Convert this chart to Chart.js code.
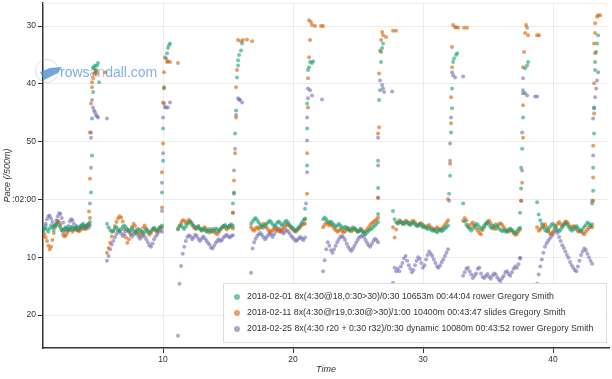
<!DOCTYPE html>
<html><head><meta charset="utf-8">
<script src="https://cdn.jsdelivr.net/npm/chart.js@4/dist/chart.umd.min.js"></script>
<style>html,body{margin:0;padding:0;background:#fff}#wrap{width:612px;height:379px}</style>
</head><body><div id="wrap"><canvas id="c" width="612" height="379"></canvas></div>
<script>
const seriesLabels = [
  '2018-02-01 8x(4:30@18,0:30>30)/0:30 10653m 00:44:04 rower Gregory Smith',
  '2018-02-11 8x(4:30@r19,0:30@>30)/1:00 10400m 00:43:47 slides Gregory Smith',
  '2018-02-25 8x(4:30 r20 + 0:30 r32)/0:30 dynamic 10080m 00:43:52 rower Gregory Smith'
];
const seriesColors = ['rgba(27,158,119,0.6)', 'rgba(217,95,2,0.6)', 'rgba(117,112,179,0.6)'];

// work intervals (minutes)
const workStart = [0.77, 5.69, 11.15, 16.77, 22.31, 27.69, 33.08, 38.77];
const workEnd   = [4.38, 9.92, 15.38, 20.92, 26.54, 31.92, 37.46, 43.0];

// pace (seconds /500m) during work intervals
const greenWork = [
 [125.4,125.0,124.6,125.2,125.6,125.0,124.5,124.8,125.3,124.6,124.2,124.0,124.5,124.9,125.3,125.6,125.2,124.8,125.0,125.3,125.1,124.7,124.9,125.2,125.0,124.6,124.8,125.1,124.7,124.4,124.2,124.6,124.9,124.5,124.2,123.9],
 [124.2,124.8,125.3,125.6,125.4,125.0,124.8,125.2,125.5,125.1,124.7,124.5,124.8,125.2,125.5,125.3,125.0,125.4,125.8,125.5,125.1,125.3,125.6,125.9,125.6,125.2,125.4,125.7,125.5,125.1,124.9,125.2,125.4,125.0,124.7,124.5],
 [125.0,124.6,124.4,124.8,125.1,124.7,124.3,124.0,123.8,124.2,124.5,124.8,125.0,124.7,125.1,125.3,125.0,125.3,125.6,125.4,125.1,125.4,125.6,125.3,125.0,125.2,125.5,125.1,124.8,124.6,124.4,124.7,124.9,124.5,124.3,124.6],
 [124.2,123.8,123.4,123.2,123.6,124.0,124.4,124.7,124.9,124.6,124.2,124.0,123.7,123.9,124.3,124.6,124.4,124.0,123.8,124.1,124.5,124.3,123.9,123.7,124.0,124.4,124.7,124.9,125.2,125.4,125.1,124.8,124.4,124.0,123.6,123.4],
 [123.4,123.1,123.4,123.8,124.0,123.8,124.1,124.4,124.7,124.5,124.2,124.5,124.8,125.0,124.7,124.9,125.2,125.4,125.1,124.8,125.0,125.3,125.6,125.4,125.1,125.5,125.8,126.0,125.7,125.4,125.2,125.0,124.7,124.5,124.2,123.9],
 [122.0,123.4,124.0,124.2,124.0,123.8,124.1,124.3,124.0,123.8,124.1,124.4,124.2,124.0,124.3,124.6,124.4,124.2,124.5,124.8,124.6,124.9,125.1,124.9,125.2,125.4,125.2,125.5,125.7,125.4,125.2,125.5,125.3,125.0,124.8,124.5],
 [120.7,123.8,124.4,124.8,125.1,125.4,125.0,124.6,124.2,124.4,124.8,125.2,124.9,124.5,124.2,124.0,124.4,124.8,125.0,124.6,124.3,124.6,125.0,125.3,125.5,125.3,125.6,125.4,125.2,125.0,125.3,125.6,125.8,125.5,125.1,124.9],
 [120.5,122.6,123.6,124.2,124.8,125.3,125.5,125.2,124.8,124.4,124.2,124.5,124.9,125.3,125.5,125.2,124.8,124.4,124.1,124.3,124.7,125.1,125.4,125.2,124.9,124.6,124.9,125.3,125.5,125.1,124.7,124.4,124.0,124.2,124.5,124.3]
];
const orangeWork = [
 [126.3,126.0,126.6,127.2,128.0,128.6,128.2,127.0,125.8,124.8,124.2,123.7,123.9,124.4,125.3,126.1,126.4,126.2,125.8,125.4,125.1,125.3,125.6,125.2,124.9,125.0,125.3,125.5,125.2,124.8,124.6,124.9,125.1,124.7,124.3,123.2],
 [129.2,128.4,127.5,126.4,125.5,124.6,123.9,123.3,122.9,123.1,123.8,125.2,126.6,127.5,126.9,125.8,124.7,124.2,124.6,125.3,125.9,126.2,125.6,124.9,124.5,125.0,125.7,126.1,125.8,125.3,125.0,125.4,125.6,125.1,124.8,124.9],
 [125.2,124.6,124.0,123.6,123.7,124.1,123.8,123.5,123.9,124.4,124.8,125.1,124.9,124.6,125.0,125.4,125.2,124.8,125.1,125.5,125.7,125.4,125.1,125.5,125.8,126.0,125.6,125.2,124.9,124.6,124.9,125.2,124.8,124.5,124.8,125.0],
 [124.8,125.2,125.4,125.0,124.8,125.1,124.9,124.5,124.2,124.4,124.8,125.2,125.5,125.6,125.3,125.0,124.8,125.2,125.5,125.6,125.3,125.0,124.7,124.4,124.3,124.6,124.9,125.2,125.4,125.6,125.3,125.0,124.7,124.4,124.2,124.2],
 [124.8,124.4,124.0,124.2,124.5,124.3,124.6,125.0,125.3,125.6,125.4,125.1,125.4,125.7,125.5,125.2,124.9,125.2,125.5,125.3,125.0,125.3,125.6,125.4,125.1,125.4,125.7,125.5,125.2,124.8,124.4,124.1,123.9,123.7,123.4,123.1],
 [124.8,126.6,125.2,124.0,123.6,123.8,124.2,124.0,123.7,124.0,124.3,124.1,123.8,123.7,124.0,124.4,124.6,124.3,124.1,124.4,124.7,124.9,124.6,124.4,124.8,125.0,125.3,125.1,124.8,125.1,125.3,125.0,124.7,124.4,124.0,123.6],
 [123.7,123.2,123.6,124.4,124.8,124.3,124.0,124.5,125.0,125.4,125.8,126.0,125.3,124.8,124.2,123.8,123.7,124.1,124.6,124.9,125.1,124.7,124.3,124.1,124.4,124.8,125.2,125.5,125.6,125.3,125.4,125.8,126.1,126.0,125.6,125.2],
 [124.8,125.4,125.2,124.8,124.5,124.3,124.8,125.4,125.8,126.0,125.6,125.0,124.6,124.2,123.9,124.3,124.6,124.2,123.8,123.9,124.3,124.7,124.9,124.6,124.8,125.2,125.5,125.6,125.4,125.8,126.0,125.6,125.2,124.9,124.7,124.8]
];
const purpleWork = [
 [125.6,125.0,124.2,123.4,122.9,122.8,123.3,123.9,124.6,124.4,123.6,122.9,122.4,122.5,123.2,124.0,125.0,125.4,125.1,124.6,123.8,123.4,123.6,124.2,124.8,125.3,125.4,125.0,124.6,124.8,125.1,124.9,124.6,124.4,124.9,124.5],
 [130.6,129.8,128.6,127.8,127.2,126.6,126.0,125.6,125.4,125.9,126.3,126.0,125.5,125.2,125.6,126.1,126.4,126.0,125.6,125.9,126.4,126.8,126.5,126.1,126.4,126.9,127.4,127.9,128.2,127.6,126.9,126.4,126.0,125.6,125.3,125.6],
 [143.6,134.6,131.5,129.4,128.2,127.2,126.5,126.2,126.4,126.9,126.6,126.1,126.3,126.8,127.2,126.8,126.4,126.7,127.1,127.5,127.8,128.3,128.5,128.0,127.5,127.2,126.9,127.2,127.0,126.6,126.3,126.1,126.4,126.6,126.3,126.2],
 [132.7,128.5,127.4,126.8,126.3,126.0,125.8,126.1,126.5,126.9,126.6,126.2,125.9,126.1,126.5,126.0,125.5,125.1,125.0,125.3,125.6,125.9,125.6,125.3,125.5,125.9,126.3,126.6,126.9,127.2,127.0,126.7,126.5,126.8,127.0,126.6],
 [132.4,130.5,128.6,127.4,128.0,128.8,129.2,128.6,128.0,127.4,126.9,126.5,126.3,126.6,127.0,127.6,128.2,128.6,128.9,128.5,128.0,127.5,127.0,126.6,126.4,126.2,126.5,127.0,127.5,127.9,128.2,127.7,127.2,126.8,127.0,127.4],
 [134.4,131.8,132.4,132.0,132.4,131.6,131.0,130.2,129.8,130.6,131.4,132.0,132.6,132.2,131.4,130.6,130.0,130.3,131.0,131.8,131.4,130.4,129.6,129.0,129.4,129.8,130.4,131.0,131.6,131.8,131.4,130.8,130.4,129.8,129.2,128.6],
 [133.2,132.6,132.0,131.8,132.4,133.0,133.6,133.2,132.8,132.0,131.8,132.8,133.4,133.6,133.2,132.9,133.4,133.7,133.2,132.8,133.0,133.5,133.9,134.1,133.6,133.2,132.6,132.4,132.9,133.2,132.6,132.0,131.6,131.8,131.2,130.2],
 [134.6,133.0,131.6,130.4,129.2,128.2,127.6,127.2,126.8,126.4,126.0,125.6,125.4,125.8,126.5,127.2,127.9,128.4,129.0,129.6,130.1,130.8,131.4,131.8,132.2,132.4,131.6,130.6,129.6,129.0,128.5,128.8,129.4,130.0,130.6,131.1]
];

// sprint strokes: [time (min), pace (s)]
const greenSprint = [
 [4.46,118.8],[4.54,112.4],[4.54,106.0],[4.62,101.4],[4.62,97.1],[4.69,97.3],[4.77,96.8],[4.85,97.6],[4.92,96.8],[5.0,96.4],[5.08,99.7],
 [9.92,118.8],[10.0,113.3],[10.0,107.7],[10.08,100.6],[10.23,95.6],[10.31,94.7],[10.38,93.8],[10.46,93.3],[10.54,93.0],
 [15.38,120.7],[15.46,118.8],[15.54,108.6],[15.62,104.6],[15.69,98.9],[15.77,96.8],[15.77,95.9],[15.85,95.0],[16.0,94.2],[16.08,93.0],
 [20.92,121.6],[21.08,114.1],[21.08,107.7],[21.08,103.4],[21.15,97.6],[21.23,97.1],[21.31,96.2],[21.46,96.4],[21.54,96.1],
 [26.54,122.5],[26.54,118.0],[26.54,113.3],[26.62,102.8],[26.69,101.1],[26.77,96.2],[26.77,94.5],[26.85,93.8],[26.92,93.0],
 [32.0,119.0],[32.08,115.9],[32.15,108.4],[32.23,104.2],[32.23,100.8],[32.31,96.2],[32.38,95.6],[32.54,95.0],[32.62,94.7],
 [37.46,122.3],[37.54,118.1],[37.54,114.5],[37.62,111.2],[37.69,105.8],[37.69,101.6],[37.85,97.3],[38.0,96.8],[38.08,96.2],
 [43.0,120.7],[43.08,118.5],[43.08,114.5],[43.15,108.6],[43.15,104.2],[43.23,97.6],[43.23,96.2],[43.31,94.5],[43.38,93.0],[43.46,91.6]
];
const orangeSprint = [
 [4.31,122.1],[4.38,116.4],[4.38,108.4],[4.46,103.4],[4.54,100.6],[4.54,99.7],[4.62,99.0],[4.69,98.3],[4.77,98.0],[4.85,97.8],[4.92,98.2],[5.54,98.0],
 [9.92,121.4],[9.92,115.3],[10.0,110.3],[10.0,103.2],[10.08,100.8],[10.08,98.0],[10.15,95.4],[10.31,96.2],[10.38,96.1],[10.54,96.2],[11.15,96.4],
 [15.38,122.3],[15.46,116.7],[15.54,112.0],[15.62,105.8],[15.62,100.6],[15.69,97.6],[15.77,92.4],[16.0,92.6],[16.15,92.4],[16.46,92.3],[16.85,92.6],
 [20.92,123.3],[21.08,119.0],[21.08,112.0],[21.15,104.1],[21.15,99.0],[21.23,95.4],[21.31,92.4],[21.23,89.0],[21.38,89.3],[21.46,89.8],[21.69,90.0],[22.15,90.0],[22.31,90.0],
 [26.54,119.7],[26.54,108.6],[26.62,107.5],[26.62,98.2],[26.69,94.2],[26.77,92.4],[26.85,91.0],[26.92,91.6],[27.15,91.9],[27.69,90.8],[27.92,90.8],
 [31.92,119.9],[32.08,113.8],[32.15,106.8],[32.15,102.3],[32.23,97.1],[32.23,93.6],[32.31,89.8],[32.46,90.2],[32.54,90.2],[32.69,90.3],[33.15,90.3],[33.38,90.3],
 [37.54,120.2],[37.62,117.1],[37.69,109.3],[37.69,103.7],[37.69,97.1],[37.77,94.5],[37.85,91.2],[37.92,89.8],[38.0,90.3],[38.08,91.6],[38.77,91.6],[38.92,91.6],
 [43.08,120.2],[43.08,116.2],[43.08,110.7],[43.15,105.1],[43.15,99.9],[43.23,94.7],[43.15,93.0],[43.23,91.2],[43.23,89.5],[43.38,88.4],[43.46,88.1],[43.62,88.1]
];
const purpleSprint = [
 [4.38,120.7],[4.46,114.5],[4.46,109.3],[4.46,108.4],[4.54,102.8],[4.62,104.1],[4.69,104.6],[4.77,104.9],[4.85,105.4],[4.92,105.6],[5.0,105.8],[5.69,106.0],
 [9.92,122.0],[9.92,117.1],[10.0,112.0],[10.0,105.8],[10.08,103.4],[10.15,104.0],[10.23,104.1],[10.38,104.1],[10.54,103.2],
 [15.38,122.3],[15.46,119.0],[15.46,115.0],[15.54,111.2],[15.62,105.4],[15.77,102.5],[15.85,102.7],[15.92,102.8],[16.08,103.2],
 [21.0,120.7],[21.08,115.3],[21.08,109.8],[21.08,105.8],[21.15,102.5],[21.15,100.8],[21.31,101.1],[21.46,102.0],[22.23,102.7],
 [26.54,119.7],[26.54,114.1],[26.54,109.3],[26.69,99.4],[26.85,100.2],[26.92,100.8],[27.0,101.4],[27.62,101.3],
 [32.0,120.2],[32.08,113.3],[32.08,110.3],[32.15,105.8],[32.23,98.0],[32.31,98.5],[32.46,98.9],[33.08,98.7],
 [37.46,130.1],[37.54,120.2],[37.62,115.0],[37.62,108.4],[37.69,101.1],[37.69,99.0],[37.85,101.6],[38.0,102.0],[38.62,102.2],[38.77,102.2],
 [43.0,120.2],[43.08,112.4],[43.08,106.0],[43.15,104.1],[43.23,102.3],[43.31,100.8],[43.38,99.4],[43.46,98.0]
];

const paceTicks = [90, 100, 110, 120, 130, 140];
const paceTickLabels = ['30', '40', '50', ':02:00', '10', '20'];
const timeTicks = [10, 20, 30, 40];
const timeTickLabels = ['10', '20', '30', '40'];

function buildPoints(work, sprint) {
  const pts = [];
  work.forEach((paces, i) => {
    const n = paces.length;
    paces.forEach((p, j) => pts.push({x: workStart[i] + (workEnd[i] - workStart[i]) * j / (n - 1), y: p}));
  });
  sprint.forEach(([t, p]) => pts.push({x: t, y: p}));
  return pts;
}

const seriesData = [buildPoints(greenWork, greenSprint), buildPoints(orangeWork, orangeSprint), buildPoints(purpleWork, purpleSprint)];

const FONT = "'Liberation Sans', Arial, Helvetica, sans-serif";

const watermark = {
  id: 'watermark',
  beforeDatasetsDraw(chart) {
    const ctx = chart.ctx;
    ctx.save();
    ctx.strokeStyle = 'rgba(120,170,220,0.35)';
    ctx.lineWidth = 1;
    ctx.beginPath(); ctx.arc(47, 71, 11.5, 0, Math.PI * 2); ctx.stroke();
    ctx.fillStyle = 'rgba(80,145,210,0.8)';
    ctx.beginPath();
    ctx.moveTo(40, 72); ctx.lineTo(50, 68); ctx.lineTo(62, 67); ctx.lineTo(58, 73); ctx.lineTo(44, 80); ctx.closePath(); ctx.fill();
    ctx.font = '14px ' + FONT;
    ctx.textBaseline = 'alphabetic';
    let x = 60;
    const parts = [['rows', 0.75], ['an', 0.5], ['dall.com', 0.7]];
    parts.forEach(([s, a]) => {
      ctx.fillStyle = 'rgba(80,145,210,' + a + ')';
      ctx.fillText(s, x, 77);
      x += ctx.measureText(s).width;
    });
    ctx.restore();
  }
};

const boxLegend = {
  id: 'boxLegend',
  afterDatasetsDraw(chart) {
    const ctx = chart.ctx;
    ctx.save();
    const bx = 223.5, by = 283.5, bw = 383, bh = 59;
    ctx.fillStyle = '#fff';
    ctx.strokeStyle = '#ddd';
    ctx.lineWidth = 1;
    ctx.beginPath(); ctx.rect(bx, by, bw, bh); ctx.fill(); ctx.stroke();
    ctx.font = '8.8px ' + FONT;
    ctx.textBaseline = 'middle';
    chart.data.datasets.forEach((ds, i) => {
      const y = 297 + i * 16;
      ctx.fillStyle = ds.backgroundColor;
      ctx.beginPath(); ctx.arc(237, y, 3, 0, Math.PI * 2); ctx.fill();
      ctx.fillStyle = '#333';
      ctx.fillText(ds.label, 247, y);
    });
    const a = chart.chartArea;
    ctx.strokeStyle = '#eee';
    ctx.beginPath(); ctx.moveTo(a.left, a.top + 0.5); ctx.lineTo(a.right, a.top + 0.5); ctx.stroke();
    ctx.restore();
  }
};

new Chart(document.getElementById('c'), {
  type: 'scatter',
  data: {
    datasets: seriesData.map((d, i) => ({
      label: seriesLabels[i],
      data: d,
      backgroundColor: seriesColors[i],
      borderWidth: 0,
      pointRadius: 2,
      pointHoverRadius: 2
    }))
  },
  options: {
    responsive: false,
    animation: false,
    layout: {padding: {top: 3, right: 3, left: 0, bottom: 0}},
    plugins: {legend: {display: false}, tooltip: {enabled: false}},
    scales: {
      x: {
        type: 'linear', min: 0.77, max: 44.3,
        afterBuildTicks: s => { s.ticks = timeTicks.map(v => ({value: v})); },
        afterFit: s => { s.height = 31; s.paddingLeft = 0; s.paddingRight = 0; },
        ticks: {font: {size: 8.5, family: FONT}, color: '#333', padding: 2,
                callback: v => timeTickLabels[timeTicks.indexOf(v)]},
        grid: {color: '#ececec', tickColor: '#333', tickLength: 5},
        border: {color: '#333', width: 1.5},
        title: {display: true, text: 'Time', font: {size: 9, style: 'italic', family: FONT}, color: '#333'}
      },
      y: {
        type: 'linear', reverse: true, min: 86.0, max: 145.7,
        afterBuildTicks: s => { s.ticks = paceTicks.map(v => ({value: v})); },
        afterFit: s => { s.width = 43; s.paddingTop = 0; s.paddingBottom = 0; },
        ticks: {font: {size: 8.5, family: FONT}, color: '#333', padding: 2,
                callback: v => paceTickLabels[paceTicks.indexOf(v)]},
        grid: {color: '#ececec', tickColor: '#333', tickLength: 5},
        border: {color: '#333', width: 1.5},
        title: {display: true, text: 'Pace (/500m)', font: {size: 9, style: 'italic', family: FONT}, color: '#333', padding: {top: 2, bottom: 2}}
      }
    }
  },
  plugins: [watermark, boxLegend]
});
</script></body></html>
